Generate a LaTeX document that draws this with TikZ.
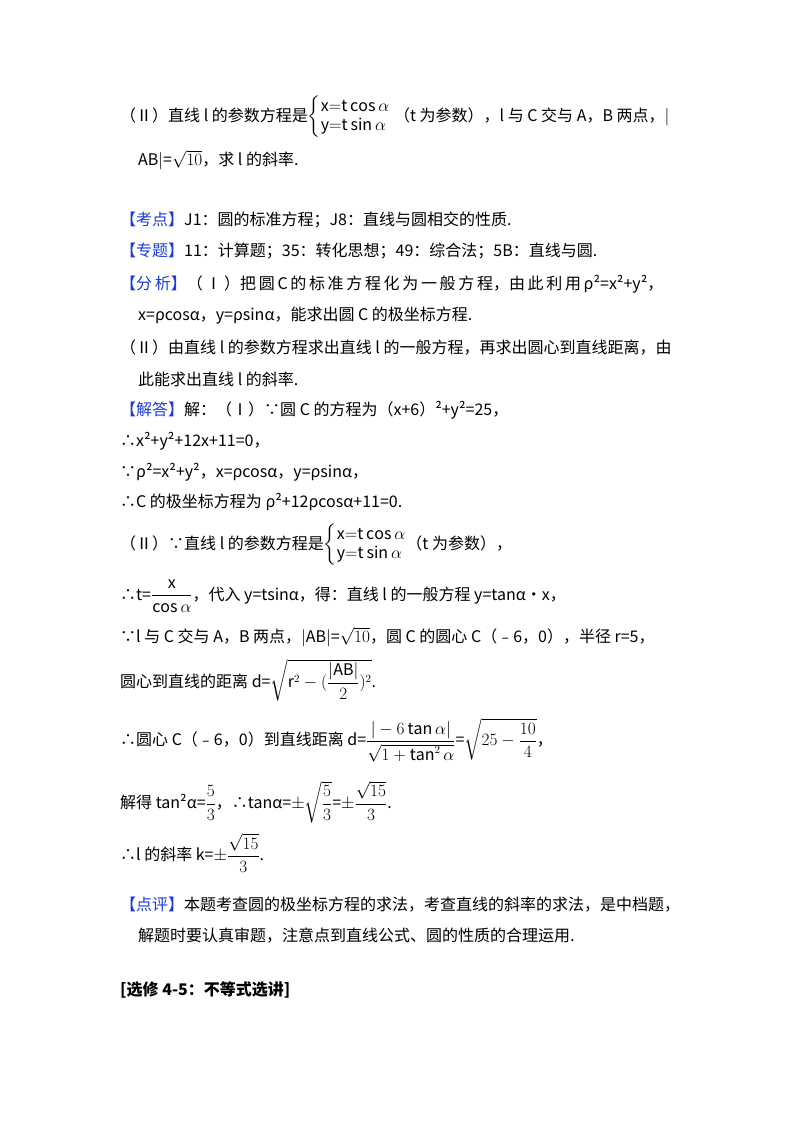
\documentclass[tikz,border=0pt]{standalone}
\usepackage{amsmath}
\usepackage{fontspec}
\setmainfont{Noto Sans CJK SC}
\definecolor{tagblue}{RGB}{30,60,220}
\newcommand{\tagb}[1]{\textcolor{tagblue}{【#1】}}
\begin{document}
\begin{tikzpicture}[x=1pt,y=-1pt,
  ln/.style={anchor=west,inner sep=0pt,font=\fontsize{16}{19}\selectfont},
  hd/.style={anchor=west,inner sep=0pt,font=\fontsize{16}{19}\selectfont\bfseries}]
\fill[white] (0,0) rectangle (800,1132);
\useasboundingbox (0,0) rectangle (800,1132);
\node[ln] (l1) at (120,117) {（Ⅱ）直线 l 的参数方程是$\left\{\begin{array}{@{}l@{}}\mathrm{x{=}t\cos\alpha}\\ \mathrm{y{=}t\sin\alpha}\end{array}\right.$ （t 为参数），l 与 C 交与 A，B 两点，$|$};
\node[ln] (l2) at (138,160) {AB$|$=$\sqrt{10}$，求 l 的斜率.};
\node[ln] (l3) at (120,220) {\tagb{考点}J1：圆的标准方程；J8：直线与圆相交的性质.};
\node[ln] (l4) at (120,251) {\tagb{专题}11：计算题；35：转化思想；49：综合法；5B：直线与圆.};
\node[ln] (l5) at (120,284) {\tagb{分\,析}（\,Ⅰ\,）把\,圆\,C\,的\,标\,准\,方\,程\,化\,为\,一\,般\,方\,程，由\,此\,利\,用\,ρ²=x²+y²，};
\node[ln] (l6) at (138,316) {x=ρcosα，y=ρsinα，能求出圆 C 的极坐标方程.};
\node[ln] (l7) at (120,348) {（Ⅱ）由直线 l 的参数方程求出直线 l 的一般方程，再求出圆心到直线距离，由};
\node[ln] (l8) at (138,379) {此能求出直线 l 的斜率.};
\node[ln] (l9) at (120,410) {\tagb{解答}解：（Ⅰ）∵圆 C 的方程为（x+6）²+y²=25，};
\node[ln] (l10) at (120,441) {∴x²+y²+12x+11=0，};
\node[ln] (l11) at (120,472) {∵ρ²=x²+y²，x=ρcosα，y=ρsinα，};
\node[ln] (l12) at (120,502) {∴C 的极坐标方程为 ρ²+12ρcosα+11=0.};
\node[ln] (l13) at (120,545) {（Ⅱ）∵直线 l 的参数方程是$\left\{\begin{array}{@{}l@{}}\mathrm{x{=}t\cos\alpha}\\ \mathrm{y{=}t\sin\alpha}\end{array}\right.$（t 为参数），};
\node[ln] (l14) at (120,596) {∴t=$\dfrac{\mathrm{x}}{\cos\alpha}$，代入 y=tsinα，得：直线 l 的一般方程 y=tanα•x，};
\node[ln] (l15) at (120,637) {∵l 与 C 交与 A，B 两点，$|$AB$|$=$\sqrt{10}$，圆 C 的圆心 C（﹣6，0），半径 r=5，};
\node[ln] (l16) at (120,680) {圆心到直线的距离 d=$\sqrt{\mathrm{r}^2-(\dfrac{|\mathrm{AB}|}{2})^2}$.};
\node[ln] (l17) at (120,740) {∴圆心 C（﹣6，0）到直线距离 d=$\dfrac{|-6\tan\alpha|}{\sqrt{1+\tan^2\alpha}}$=$\sqrt{25-\dfrac{10}{4}}$，};
\node[ln] (l18) at (120,802) {解得 tan²α=$\dfrac{5}{3}$，∴tanα=$\pm\sqrt{\dfrac{5}{3}}$=$\pm\dfrac{\sqrt{15}}{3}$.};
\node[ln] (l19) at (120,853) {∴l 的斜率 k=$\pm\dfrac{\sqrt{15}}{3}$.};
\node[ln] (l20) at (120,905) {\tagb{点评}本题考查圆的极坐标方程的求法，考查直线的斜率的求法，是中档题，};
\node[ln] (l21) at (138,936) {解题时要认真审题，注意点到直线公式、圆的性质的合理运用.};
\node[hd] (l22) at (120,990) {[选修 4-5：不等式选讲]};
\end{tikzpicture}
\end{document}
